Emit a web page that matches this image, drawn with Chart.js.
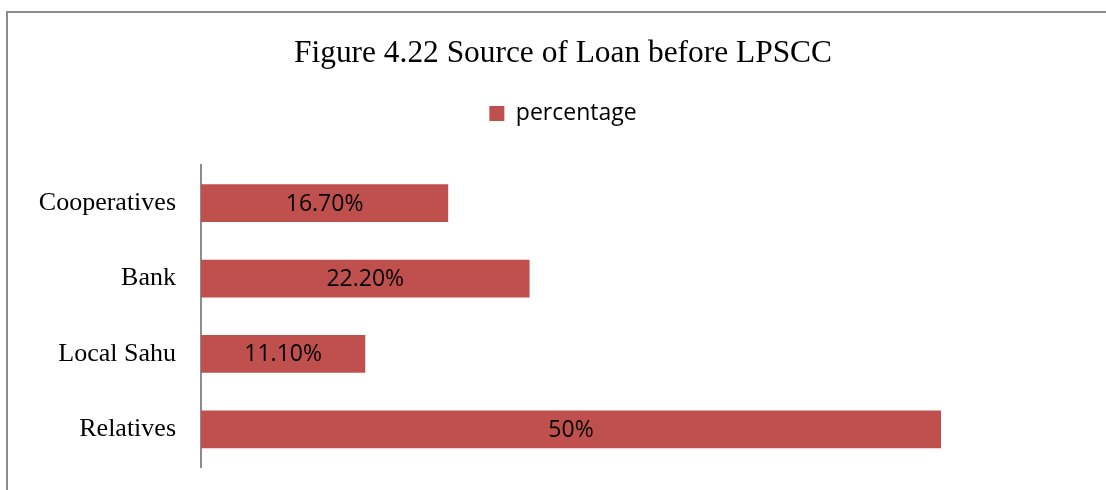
<!DOCTYPE html>
<html>
<head>
<meta charset="utf-8">
<title>Source of Loan before LPSCC</title>
<script src="https://cdn.jsdelivr.net/npm/chart.js@4.4.1/dist/chart.umd.min.js"></script>
<style>
	html, body { margin: 0; padding: 0; background: #fff; overflow: hidden; }
	#wrap { position: relative; width: 1106px; height: 490px; overflow: hidden; }
	#frame { position: absolute; left: 6px; top: 11px; width: 1300px; height: 700px; border: 2px solid #8c8c8c; }
	#chartLoan { position: absolute; left: 0; top: 0; }
</style>
</head>
<body>
<div id="wrap">
	<div id="frame"></div>
	<canvas id="chartLoan" width="1106" height="490"></canvas>
</div>
<script>
// sources of loan, top to bottom
var categories = ['Cooperatives', 'Bank', 'Local Sahu', 'Relatives'];
var percentages = [16.7, 22.2, 11.1, 50];
var valueLabels = ['16.70%', '22.20%', '11.10%', '50%'];
var axisMin = 0;
var axisMax = 60;

var serif = '"Liberation Serif", "Times New Roman", serif';
var sans = '"Open Sans", "Noto Sans", sans-serif';

// writes the percentage in the middle of each bar
var barLabels = {
	id: 'barLabels',
	afterDatasetsDraw: function(chart) {
		var ctx = chart.ctx;
		var meta = chart.getDatasetMeta(0);
		ctx.save();
		ctx.font = '23px ' + sans;
		ctx.fillStyle = '#000';
		ctx.textAlign = 'center';
		ctx.textBaseline = 'middle';
		meta.data.forEach(function(bar, k) {
			var p = bar.getCenterPoint();
			ctx.fillText(valueLabels[k], p.x, p.y + 1);
		});
		ctx.restore();
	}
};

var ctx = document.getElementById('chartLoan').getContext('2d');

var chartLoan = new Chart(ctx, {
	type: 'bar',
	data: {
		labels: categories,
		datasets: [
			{
				label: 'percentage',
				data: percentages,
				backgroundColor: '#C0504D',
				borderWidth: 0,
				barPercentage: 0.5,
				categoryPercentage: 1.0
			}
		]
	},
	options: {
		indexAxis: 'y',
		responsive: false,
		animation: false,
		devicePixelRatio: 1,
		layout: {
			padding: { left: 37, right: 17, top: 0, bottom: 23 }
		},
		plugins: {
			title: {
				display: true,
				text: 'Figure 4.22 Source of Loan before LPSCC',
				color: '#000',
				font: { family: serif, size: 31.4, weight: 'normal' },
				padding: { top: 35.4, bottom: 18.9 }
			},
			legend: {
				display: true,
				position: 'top',
				labels: {
					boxWidth: 15,
					boxHeight: 15,
					padding: 10,
					color: '#000',
					font: { family: sans, size: 23 }
				}
			},
			tooltip: { enabled: false }
		},
		scales: {
			x: {
				position: 'top',
				min: axisMin,
				max: axisMax,
				ticks: { display: false },
				grid: { display: false },
				border: { display: false },
				afterFit: function(scale) { scale.height = 30.5; }
			},
			y: {
				ticks: {
					color: '#000',
					padding: 25,
					font: { family: serif, size: 26 }
				},
				grid: { display: false, drawTicks: false },
				border: { display: true, color: '#8c8c8c', width: 2 },
				afterFit: function(scale) {
					scale.width = 164;
					// labels sit mid-category, no room needed above or below
					scale.paddingTop = 0;
					scale.paddingBottom = 0;
				}
			}
		}
	},
	plugins: [barLabels]
});
</script>
</body>
</html>
